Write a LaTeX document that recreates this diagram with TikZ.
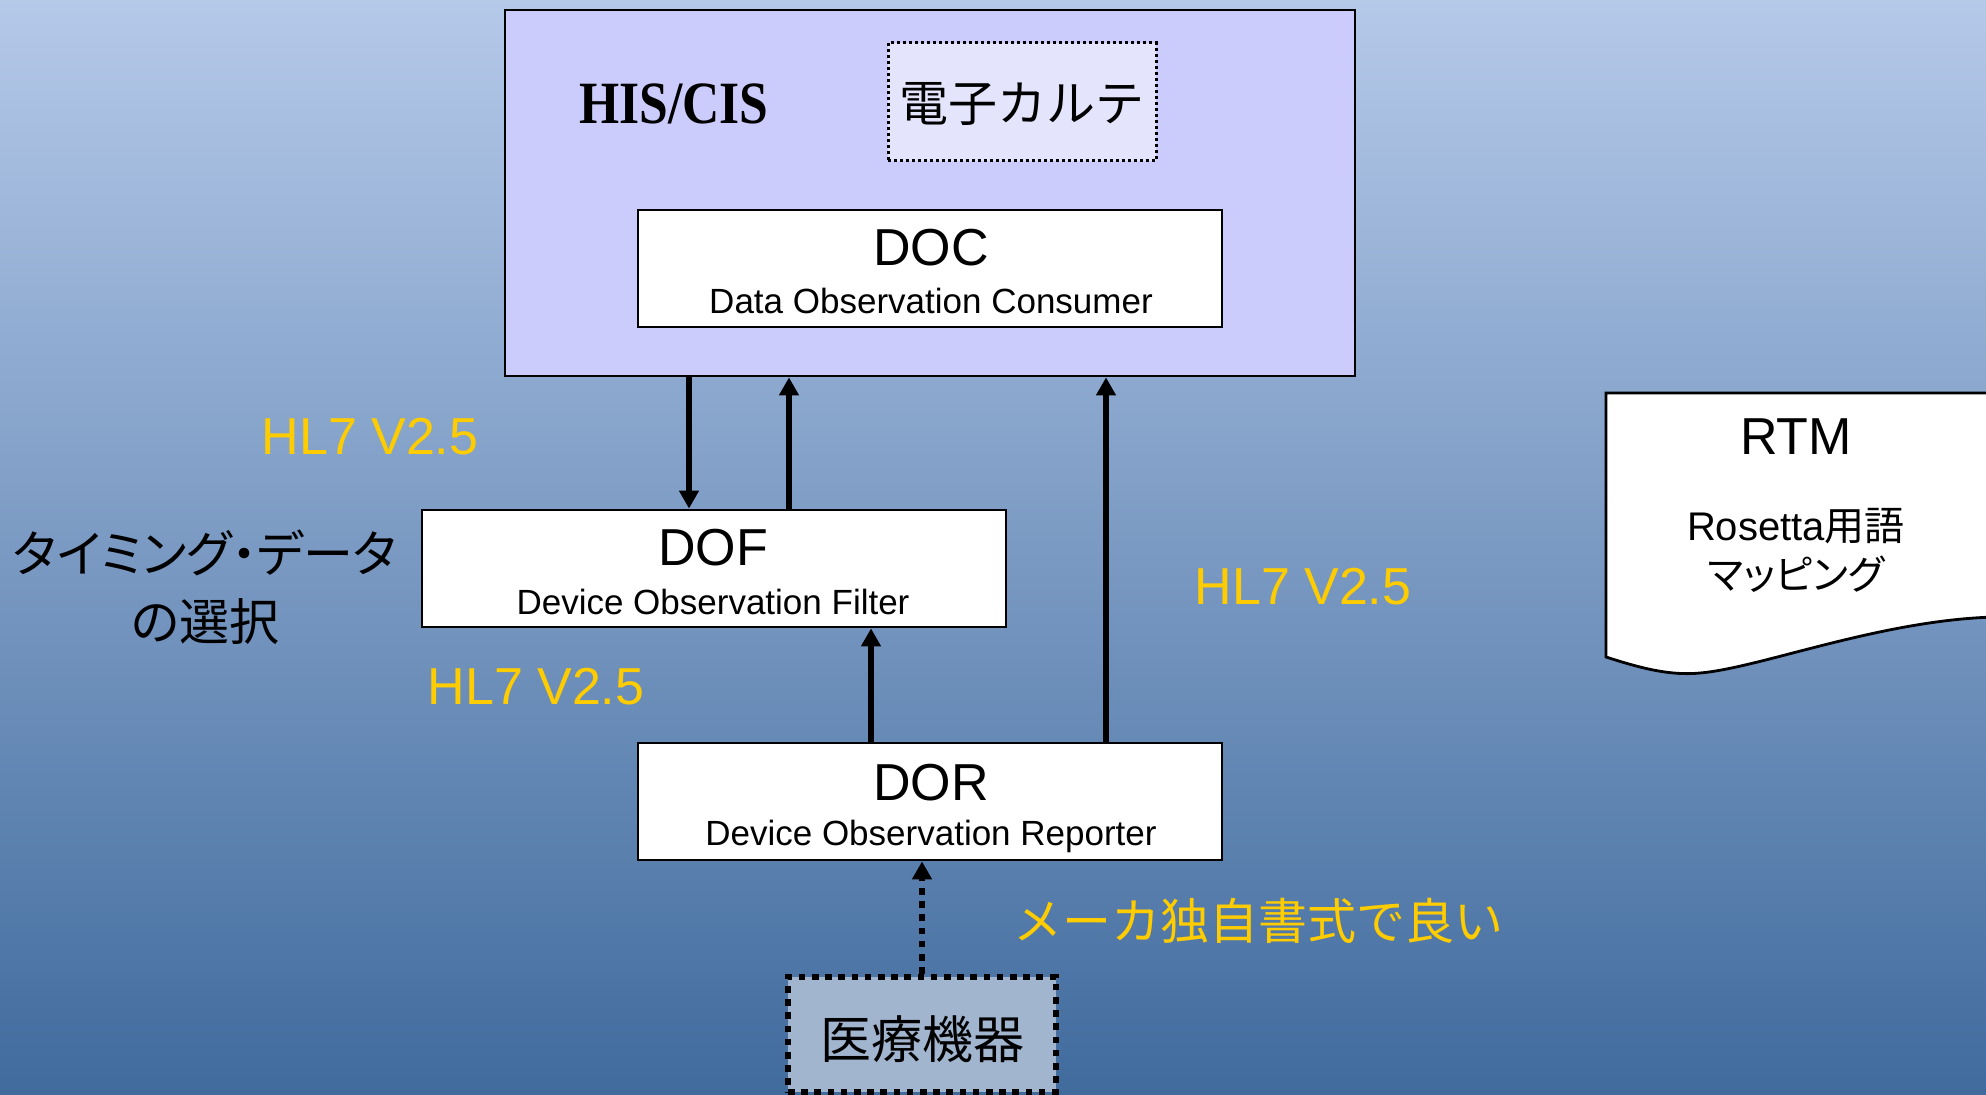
\documentclass[tikz,border=0pt]{standalone}
\usepackage{fontspec}
\usepackage{graphicx}
\setmainfont{Liberation Sans}
\newfontfamily\cjk{Noto Sans CJK JP}
\newfontfamily\cjkp[RawFeature=+palt]{Noto Sans CJK JP}
\newfontfamily\tnr{Liberation Serif}
\usetikzlibrary{arrows.meta}
\definecolor{bgtop}{RGB}{181,201,233}
\definecolor{bgbot}{RGB}{64,107,157}
\definecolor{hisfill}{RGB}{204,204,252}
\definecolor{emrfill}{RGB}{228,228,252}
\definecolor{medfill}{RGB}{162,181,207}
\definecolor{hlyellow}{RGB}{255,204,0}
\begin{document}
\begin{tikzpicture}[x=0.5pt,y=-0.5pt,
  box/.style={draw=black, line width=1.4pt, fill=white, minimum width=292pt, minimum height=58.5pt, inner sep=0pt},
  big/.style={font=\fontsize{26}{28}\selectfont, inner sep=0pt},
  small/.style={font=\fontsize{17.5}{19}\selectfont, inner sep=0pt},
  conn/.style={line width=3pt, -{Triangle[length=9pt,width=9.5pt]}},
  dotconn/.style={line width=3.3pt, dash pattern=on 3.3pt off 3.3pt, -{Triangle[length=9pt,width=9.5pt]}},
  hl/.style={text=hlyellow, font=\fontsize{26}{28}\selectfont, inner sep=0pt},
]
\useasboundingbox (0,0) rectangle (1986,1095);
\clip (0,0) rectangle (1986,1095);
\shade[top color=bgtop, bottom color=bgbot] (0,0) rectangle (1986,1095);

% HIS/CIS outer box
\node[draw=black, line width=1.4pt, fill=hisfill, minimum width=425pt, minimum height=183pt, inner sep=0pt] (his) at (930,193) {};
\node[inner sep=0pt] (histxt) at (674,104) {\scalebox{0.86}[1]{\tnr\bfseries\fontsize{30}{30}\selectfont HIS/CIS}};
\node[draw=black, line width=1.5pt, dash pattern=on 1.5pt off 1.5pt, fill=emrfill, minimum width=134pt, minimum height=59pt, inner sep=0pt] (emr) at (1022,102) {};
\node[inner sep=0pt, font={\cjk\fontsize{24.5}{26}\selectfont}] (emrtxt) at (1022,104) {電子カルテ};

% DOC
\node[box] (doc) at (930,268.5) {};
\node[big] (doctitle) at (931,248) {DOC};
\node[small] (docsub) at (931,301) {Data Observation Consumer};

% DOF
\node[box] (dof) at (714,568.5) {};
\node[big] (doftitle) at (713,548) {DOF};
\node[small] (dofsub) at (713,602) {Device Observation Filter};

% DOR
\node[box] (dor) at (930,801.5) {};
\node[big] (dortitle) at (931,783) {DOR};
\node[small] (dorsub) at (931,836) {Device Observation Reporter};

% Medical device
\node[draw=black, line width=3.3pt, dash pattern=on 3.3pt off 3.3pt, fill=medfill, minimum width=134pt, minimum height=57.5pt, inner sep=0pt] (med) at (922,1034.5) {};
\node[inner sep=0pt, font={\cjk\fontsize{25.5}{27}\selectfont}] (medtxt) at (922,1039) {医療機器};

% RTM document shape
\draw[fill=white, line width=1.4pt] (1606,393) -- (1606,657)
  .. controls (1640,668) and (1670,676) .. (1700,673)
  .. controls (1760,668) and (1880,620) .. (1995,617)
  -- (1995,393) -- cycle;
\node[big] (rtm) at (1796,437) {RTM};
\node[inner sep=0pt, font={\fontsize{20}{22}\selectfont}] (ros) at (1796,526) {Rosetta{\cjk 用語}};
\node[inner sep=0pt, font={\cjkp\fontsize{20}{22}\selectfont}] (map) at (1796,574) {マッピング};

% connector x positions
\coordinate (x1) at (689,0);
\coordinate (x2) at (789,0);
\coordinate (x3) at (1106,0);
\coordinate (x4) at (871,0);

\draw[conn] (his.south -| x1) -- (dof.north -| x1);
\draw[conn] (dof.north -| x2) -- (his.south -| x2);
\draw[conn] (dor.north -| x3) -- (his.south -| x3);
\draw[conn] (dor.north -| x4) -- (dof.south -| x4);
\draw[dotconn] (med.north) -- (dor.south -| med.north);

% labels
\node[hl] (hl1) at (370,437) {HL7 V2.5};
\node[hl] (hl2) at (536,687) {HL7 V2.5};
\node[hl] (hl3) at (1303,587) {HL7 V2.5};
\node[inner sep=0pt, text=hlyellow, font={\cjk\fontsize{24.5}{26}\selectfont}] (maker) at (1258,921) {メーカ独自書式で良い};
\node[inner sep=0pt, align=center, font={\cjkp\fontsize{25}{34}\selectfont}] (timing) at (205,587) {タイミング・データ\\の選択};
\end{tikzpicture}
\end{document}
